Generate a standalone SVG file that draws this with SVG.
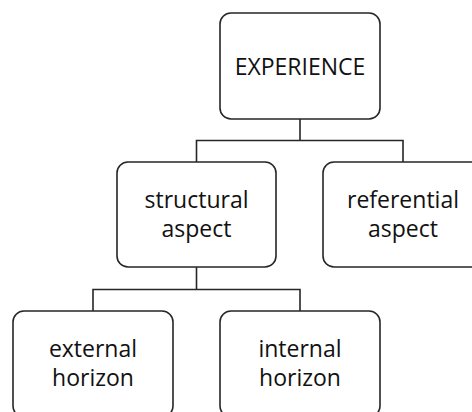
<svg xmlns="http://www.w3.org/2000/svg" width="472" height="412" viewBox="0 0 472 412">
<style>
.box{fill:#fff;stroke:#262626;stroke-width:1.6}
.lbl{font-family:"Open Sans","Liberation Sans",sans-serif;font-size:23px;fill:#111;text-anchor:middle}
.conn{fill:none;stroke:#262626;stroke-width:1.6}
</style>
<rect width="472" height="412" fill="#fff"/>
<g id="connectors">
<path class="conn" d="M300 119V140.5M196.5 162V140.5H403V162"/>
<path class="conn" d="M196.5 267V289.5M93 311V289.5H300V311"/>
</g>
<g id="experience">
<rect class="box" x="220" y="13" width="160" height="106" rx="11"/>
<text class="lbl" x="300" y="75">EXPERIENCE</text>
</g>
<g id="structural">
<rect class="box" x="117" y="162" width="159" height="105" rx="11"/>
<text class="lbl" x="196.5" y="208">structural</text>
<text class="lbl" x="196.5" y="237">aspect</text>
</g>
<g id="referential">
<rect class="box" x="323" y="162" width="160" height="105" rx="11"/>
<text class="lbl" x="403" y="208">referential</text>
<text class="lbl" x="403" y="237">aspect</text>
</g>
<g id="external">
<rect class="box" x="13" y="311" width="160" height="106" rx="11"/>
<text class="lbl" x="93" y="357">external</text>
<text class="lbl" x="93" y="386">horizon</text>
</g>
<g id="internal">
<rect class="box" x="220" y="311" width="160" height="106" rx="11"/>
<text class="lbl" x="300" y="357">internal</text>
<text class="lbl" x="300" y="386">horizon</text>
</g>
</svg>
